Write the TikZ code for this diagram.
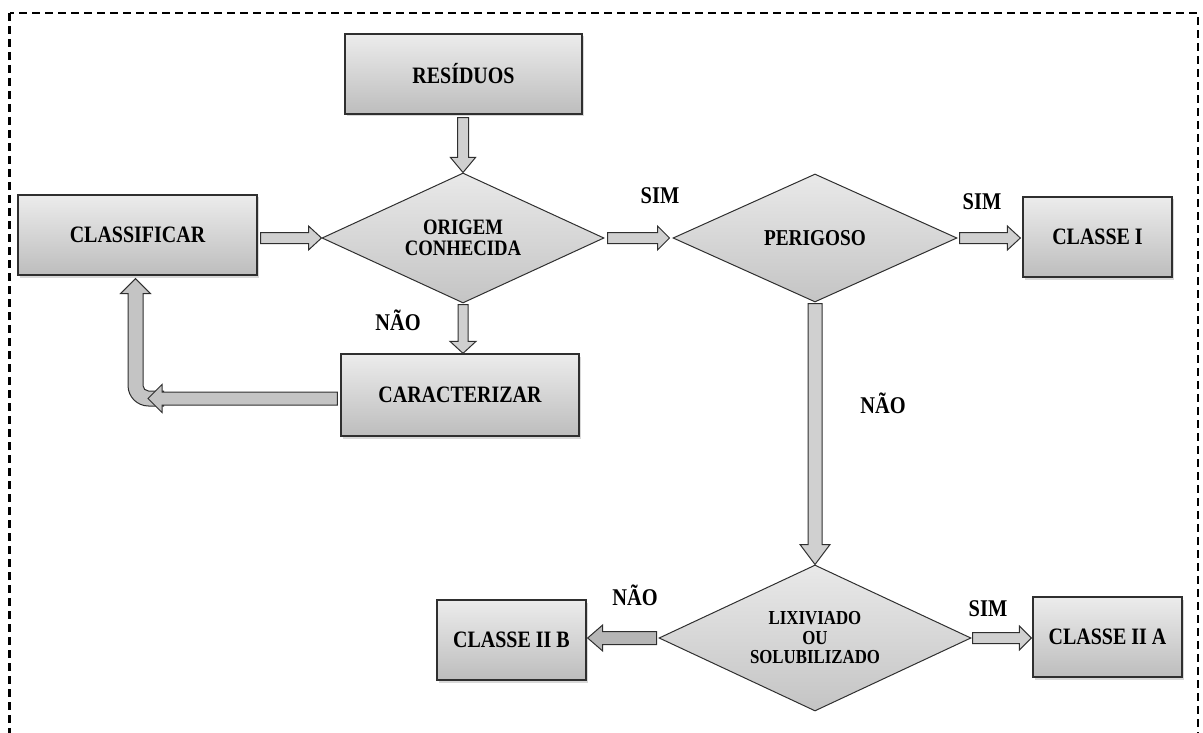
\documentclass[tikz,border=0pt]{standalone}
\usepackage{fontspec}
\setmainfont{Liberation Serif}[FakeStretch=0.85]
\usetikzlibrary{shapes.geometric,calc,shadows}

\definecolor{edge}{HTML}{2F2F2F}
\definecolor{boxtop}{HTML}{ECECEC}
\definecolor{boxbot}{HTML}{BDBDBD}
\definecolor{dtop}{HTML}{E9E9E9}
\definecolor{dbot}{HTML}{C4C4C4}
\definecolor{arrowgray}{HTML}{D0D0D0}
\definecolor{arrowdark}{HTML}{B6B6B6}
\definecolor{arrowmid}{HTML}{C4C4C4}

% Block arrow drawn as a closed outline from a start point to a tip.
% #1 style, #2 start, #3 tip, #4 half shaft width, #5 half head width, #6 head length
\newcommand{\blockarrow}[6][arrowbody]{%
  \coordinate (ba-h) at ($(#3)!#6!(#2)$);
  \filldraw[#1]
    ($(#2)!#4!90:(#3)$) -- ($(ba-h)!#4!-90:(#2)$) -- ($(ba-h)!#5!-90:(#2)$)
    -- (#3)
    -- ($(ba-h)!#5!90:(#2)$) -- ($(ba-h)!#4!90:(#2)$) -- ($(#2)!#4!-90:(#3)$)
    -- cycle;
}

\begin{document}
\begin{tikzpicture}[x=1pt,y=-1pt,
  box/.style={rectangle, draw=edge, line width=1.3pt, top color=boxtop,
    bottom color=boxbot, inner sep=0pt, text=black,
    font=\fontsize{23.5}{26}\selectfont\bfseries,
    drop shadow={shadow xshift=1.5pt, shadow yshift=-2.5pt, opacity=0.22, fill=black!70}},
  decision/.style={diamond, draw=edge, line width=1pt, top color=dtop,
    bottom color=dbot, inner sep=0pt, aspect=2.2, align=center, text=black},
  tag/.style={font=\fontsize{24}{26}\selectfont\bfseries, inner sep=0pt, text=black},
  arrowbody/.style={draw=edge, line width=1pt, fill=arrowgray, line join=miter},
  arrowdeep/.style={arrowbody, fill=arrowdark},
  arrowreturn/.style={arrowbody, fill=arrowmid},
  frame/.style={draw=black, line width=2.6pt, dash pattern=on 8pt off 5pt},
]
\useasboundingbox (0,0) rectangle (1203,733);
\clip (0,0) rectangle (1203,733);

% dashed outer frame (open at the bottom of the page)
\draw[frame] (9.5,13) rectangle (1198,770);

% process boxes
\node[box, minimum width=237pt, minimum height=80pt] (res) at (463.5,74) {RESÍDUOS};
\node[box, minimum width=239pt, minimum height=80pt] (classif) at (137.5,235) {CLASSIFICAR};
\node[box, minimum width=238pt, minimum height=82pt] (caract) at (460,395) {CARACTERIZAR};
\node[box, minimum width=149pt, minimum height=80pt] (classe1) at (1097.5,237) {CLASSE I};
\node[box, minimum width=149pt, minimum height=80pt] (c2b) at (511.5,640) {CLASSE II B};
\node[box, minimum width=149pt, minimum height=80pt] (c2a) at (1107.5,637) {CLASSE II A};

% decisions
\node[decision, minimum width=282pt, minimum height=130pt,
  font=\fontsize{22}{21.5}\selectfont\bfseries] (origem) at (463,238) {ORIGEM\\CONHECIDA};
\node[decision, minimum width=284pt, minimum height=128pt,
  font=\fontsize{22.7}{24}\selectfont\bfseries] (perig) at (815,238) {PERIGOSO};
\node[decision, minimum width=312pt, minimum height=146pt,
  font=\fontsize{19.8}{19.5}\selectfont\bfseries] (lix) at (815,638) {LIXIVIADO\\OU\\SOLUBILIZADO};

% branch labels
\node[tag] (simA) at (660,196) {SIM};
\node[tag] (simB) at (982,202) {SIM};
\node[tag] (naoA) at (398,320) {NÃO};
\node[tag] (naoB) at (883,403) {NÃO};
\node[tag] (naoC) at (635,595) {NÃO};
\node[tag] (simC) at (988,609) {SIM};

% connector end points
\coordinate (p1s) at ($(res.south -| origem.north)+(0,3)$);
\coordinate (p2s) at ($(classif.east |- origem.west)+(3,0)$);
\coordinate (p3s) at ($(origem.east)+(3,0)$);
\coordinate (p3t) at ($(perig.west)+(-3,0)$);
\coordinate (p4s) at ($(perig.east)+(2,0)$);
\coordinate (p4t) at ($(classe1.west |- perig.east)+(-2,0)$);
\coordinate (p5s) at ($(origem.south)+(0,1)$);
\coordinate (p5t) at (caract.north -| origem.south);
\coordinate (p6s) at ($(perig.south)+(0,1)$);
\coordinate (p7s) at ($(lix.west)+(-2,0)$);
\coordinate (p7t) at ($(c2b.east |- lix.west)+(1,0)$);
\coordinate (p8s) at ($(lix.east)+(1,0)$);
\coordinate (p8t) at ($(c2a.west |- lix.east)+(-1,0)$);
\coordinate (elb) at (135.5,398.5);
\coordinate (elbhead) at (148,398.5);
\coordinate (p9s) at ($(caract.west |- elb)+(-3,0)$);
\coordinate (elbtip) at ($(classif.south -| elb)+(0,3)$);

% straight block arrows
\blockarrow{p1s}{origem.north}{5.5pt}{12.5pt}{15pt}
\blockarrow{p2s}{origem.west}{5.5pt}{12pt}{13pt}
\blockarrow{p3s}{p3t}{5.5pt}{12pt}{12pt}
\blockarrow{p4s}{p4t}{5.5pt}{12pt}{13pt}
\blockarrow{p5s}{p5t}{5pt}{13pt}{12pt}
\blockarrow{p6s}{lix.north}{7pt}{15pt}{20pt}
\blockarrow[arrowdeep]{p7s}{p7t}{6.5pt}{13pt}{15pt}
\blockarrow{p8s}{p8t}{5.5pt}{12pt}{12pt}

% bent return arrow up to CLASSIFICAR
\filldraw[arrowreturn] let \p1=(elbtip), \p2=(elb) in
  (\x1,\y1) -- (\x1+15pt,\y1-15pt) -- (\x1+7.5pt,\y1-15pt)
  -- (\x2+7.5pt,\y2+13pt) arc[start angle=180, end angle=270, radius=5.5pt]
  -- (\x2+28pt,\y2+7.5pt) -- (\x2+28pt,\y2-7.5pt) -- (\x2+13pt,\y2-7.5pt)
  arc[start angle=270, end angle=180, radius=20.5pt]
  -- (\x1-7.5pt,\y1-15pt) -- (\x1-15pt,\y1-15pt) -- cycle;
\blockarrow[arrowreturn]{p9s}{elbhead}{6.5pt}{14pt}{14pt}

\end{tikzpicture}
\end{document}
